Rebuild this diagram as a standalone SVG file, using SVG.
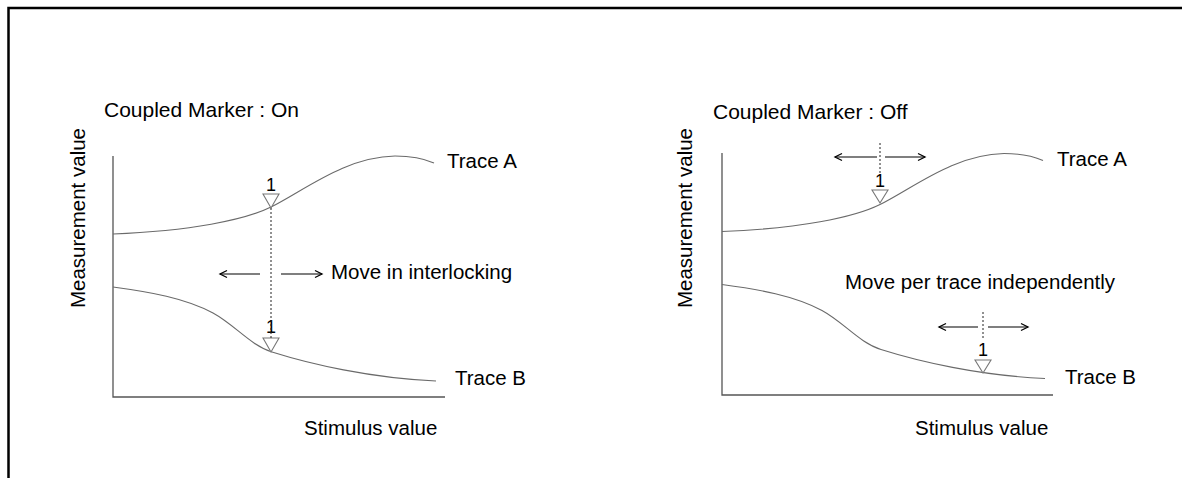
<svg xmlns="http://www.w3.org/2000/svg" width="1182" height="478" viewBox="0 0 1182 478">
<defs>
<marker id="ah" markerWidth="10" markerHeight="10" refX="8" refY="5" orient="auto" markerUnits="userSpaceOnUse">
<path d="M1,1.5 L8,5 L1,8.5" fill="none" stroke="#000" stroke-width="1.3"/>
</marker>
</defs>
<style>
text{font-family:"Liberation Sans",Arial,sans-serif;font-size:20.5px;fill:#000}
.title{font-size:21px}
.num{font-size:18px;text-anchor:middle}
.axis{fill:none;stroke:#555;stroke-width:1.3}
.trace{fill:none;stroke:#6a6a6a;stroke-width:1.1}
.mk{fill:#fff;stroke:#777;stroke-width:1.1}
.dash{stroke:#222;stroke-width:1;stroke-dasharray:2,2;fill:none}
.arr{stroke:#000;stroke-width:1.1;fill:none;marker-end:url(#ah)}
</style>
<rect width="1182" height="478" fill="#fff"/>
<path d="M1182,8 H8.5 V478" fill="none" stroke="#000" stroke-width="2.5"/>

<g id="chart-on">
<text class="title" x="104" y="117">Coupled Marker : On</text>
<text transform="translate(85,218) rotate(-90)" text-anchor="middle">Measurement value</text>
<path class="axis" d="M113,156 V397 H445"/>
<text x="304" y="435">Stimulus value</text>
<g id="traceA-on">
<path class="trace" d="M113,234 C190,231 245,220 271,207 C305,190 345,157 395,156 C410,156 425,159 434,163"/>
<text x="447" y="168">Trace A</text>
</g>
<g id="traceB-on">
<path class="trace" d="M113,287 C150,292 185,298 213,313 C235,325 250,345 272,352 C310,364 370,378 436,381"/>
<text x="455" y="385">Trace B</text>
</g>
<g id="marker-on-A">
<text class="num" x="271" y="191">1</text>
<polygon class="mk" points="263,194 279,194 271,208"/>
</g>
<g id="marker-on-B">
<text class="num" x="271" y="333">1</text>
<polygon class="mk" points="263,338 279,338 271,352"/>
</g>
<text x="331" y="279">Move in interlocking</text>
</g>

<g id="chart-off">
<text class="title" x="713" y="119">Coupled Marker : Off</text>
<text transform="translate(692,218) rotate(-90)" text-anchor="middle">Measurement value</text>
<path class="axis" d="M722,153 V395 H1053"/>
<text x="915" y="435">Stimulus value</text>
<g id="traceA-off">
<path class="trace" transform="translate(609,-2.5)" d="M113,234 C190,231 245,220 271,207 C305,190 345,157 395,156 C410,156 425,159 434,163"/>
<text x="1057" y="166">Trace A</text>
</g>
<g id="traceB-off">
<path class="trace" transform="translate(609,-2.5)" d="M113,287 C150,292 185,298 213,313 C235,325 250,345 272,352 C310,364 370,378 436,381"/>
<text x="1065" y="384">Trace B</text>
</g>
<g id="marker-off-A">
<text class="num" x="880" y="187">1</text>
<polygon class="mk" points="872,190 888,190 880,203"/>
</g>
<g id="marker-off-B">
<text class="num" x="983" y="356">1</text>
<polygon class="mk" points="975,360 991,360 983,373"/>
</g>
<text x="845" y="289">Move per trace independently</text>
</g>

<g id="connectors">
<line class="dash" x1="271" y1="208" x2="271" y2="338"/>
<line class="arr" x1="260" y1="274" x2="220" y2="274"/>
<line class="arr" x1="281" y1="274" x2="322" y2="274"/>
<line class="dash" x1="880" y1="143" x2="880" y2="175"/>
<line class="arr" x1="877" y1="157" x2="835" y2="157"/>
<line class="arr" x1="885" y1="157" x2="925" y2="157"/>
<line class="dash" x1="983" y1="312" x2="983" y2="340"/>
<line class="arr" x1="978" y1="327" x2="939" y2="327"/>
<line class="arr" x1="988" y1="327" x2="1028" y2="327"/>
</g>
</svg>
